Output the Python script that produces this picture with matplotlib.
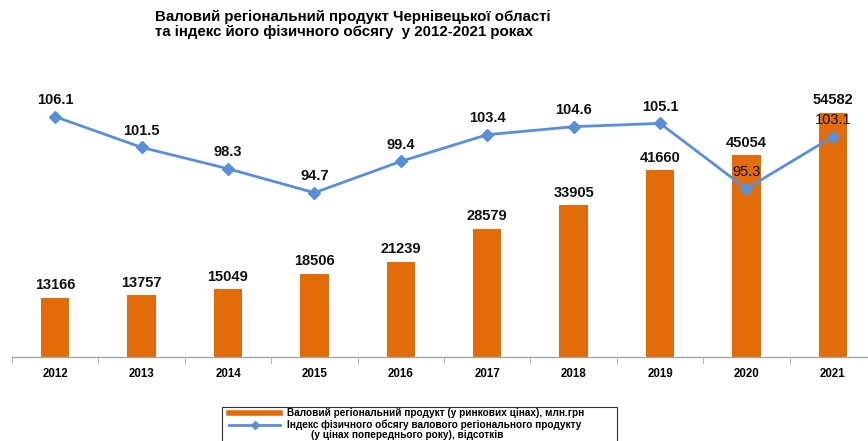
# Валовий регіональний продукт Чернівецької області, 2012-2021

import matplotlib
matplotlib.use('Agg')
import matplotlib.pyplot as plt
from matplotlib.lines import Line2D
from matplotlib.patches import Rectangle

plt.rcParams['font.family'] = ['Liberation Sans', 'DejaVu Sans']

# Data
years = ['2012', '2013', '2014', '2015', '2016', '2017', '2018', '2019', '2020', '2021']
grp_values = [13166, 13757, 15049, 18506, 21239, 28579, 33905, 41660, 45054, 54582]
volume_index = [106.1, 101.5, 98.3, 94.7, 99.4, 103.4, 104.6, 105.1, 95.3, 103.1]
regular_labels = ['2020', '2021']  # index labels drawn without bold

BAR_COLOR = '#E36C0A'
LINE_COLOR = '#5A8FD8'

W, H = 868, 441
fig = plt.figure(figsize=(8.68, 4.41), dpi=100)
ax = fig.add_axes([12 / W, 84.3 / H, 864 / W, 296.7 / H])
ax2 = ax.twinx()

x = list(range(len(years)))
ax.bar(x, grp_values, width=0.33, color=BAR_COLOR, zorder=2)
for xi, v in zip(x, grp_values):
    ax.annotate(str(v), (xi, v), xytext=(0, 4), textcoords='offset points',
                ha='center', va='bottom', fontsize=10.5, fontweight='bold', color='#111111')

ax2.plot(x, volume_index, color=LINE_COLOR, lw=2, marker='D', markersize=6, zorder=3)
for xi, v, yr in zip(x, volume_index, years):
    w = 'normal' if yr in regular_labels else 'bold'
    ax2.annotate(f'{v:.1f}', (xi, v), xytext=(0, 12), textcoords='offset points',
                 ha='center', va='center', fontsize=10.5, fontweight=w, color='#111111')

ax.set_xlim(-0.5, len(years) - 0.5)
ax.set_ylim(0, 66376)
ax2.set_ylim(70.12, 114.6)

for a in (ax, ax2):
    for s in ['top', 'right', 'left']:
        a.spines[s].set_visible(False)
    a.set_yticks([])
ax2.spines['bottom'].set_visible(False)
ax.spines['bottom'].set_color('#A6A6A6')
ax.spines['bottom'].set_linewidth(1)

ax.set_xticks(x)
ax.set_xticklabels(years, fontsize=8.3, fontweight='bold')
ax.tick_params(axis='x', which='major', length=0, pad=8)
ax.set_xticks([i - 0.5 for i in range(len(years) + 1)], minor=True)
ax.tick_params(axis='x', which='minor', length=5, color='#A6A6A6')

fig.text(155 / W, 1 - 17 / H, 'Валовий регіональний продукт Чернівецької області',
         fontsize=10.8, fontweight='bold', va='center', ha='left')
fig.text(155 / W, 1 - 32 / H, 'та індекс його фізичного обсягу  у 2012-2021 роках',
         fontsize=10.8, fontweight='bold', va='center', ha='left')

# legend drawn by hand so that the wrapped label fits at the bottom edge
fig.add_artist(Rectangle((222 / W, 1 - 445 / H), 395 / W, 38 / H, transform=fig.transFigure,
                         fill=False, edgecolor='#333333', lw=0.8))
fig.add_artist(Line2D([229 / W, 280 / W], [1 - 413 / H] * 2, color=BAR_COLOR, lw=4,
                      transform=fig.transFigure))
fig.add_artist(Line2D([229 / W, 280 / W], [1 - 425 / H] * 2, color=LINE_COLOR, lw=2,
                      transform=fig.transFigure))
fig.add_artist(Line2D([254.5 / W], [1 - 425 / H], color=LINE_COLOR, marker='D', markersize=4,
                      transform=fig.transFigure))
fig.text(287 / W, 1 - 413 / H, 'Валовий регіональний продукт (у ринкових цінах), млн.грн',
         fontsize=7.2, fontweight='bold', va='center', ha='left')
fig.text(287 / W, 1 - 424.5 / H, 'Індекс фізичного обсягу валового регіонального продукту',
         fontsize=7.2, fontweight='bold', va='center', ha='left')
fig.text(311 / W, 1 - 435 / H, '(у цінах попереднього року), відсотків',
         fontsize=7.2, fontweight='bold', va='center', ha='left')

fig.savefig('out.png', dpi=100)
